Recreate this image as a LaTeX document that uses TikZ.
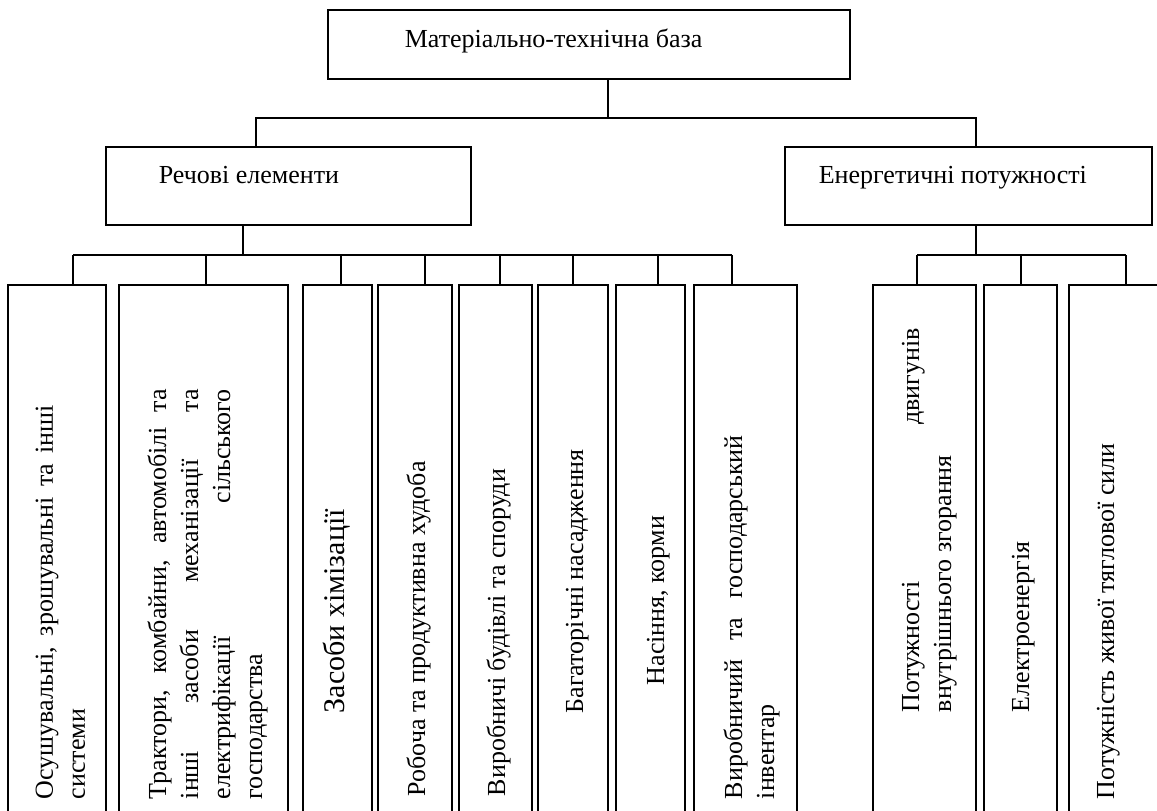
\documentclass[tikz,border=0pt]{standalone}
\usepackage{fontspec}
\setmainfont{Liberation Serif}
\usetikzlibrary{fit}
\hyphenpenalty=10000
\exhyphenpenalty=10000

\begin{document}
\begin{tikzpicture}[x=0.5pt,y=-0.5pt,
  box/.style={draw, line width=0.8pt, inner sep=0pt},
  lbl/.style={font=\fontsize{13}{16}\selectfont, inner sep=0pt},
  vlbl/.style={lbl, rotate=90, anchor=base west},
  vpar/.style={vlbl, text width=#1, align=justify}]
\useasboundingbox (0,0) rectangle (1157,810);
\clip (0,0) rectangle (1157,810);
\tikzstyle{every path}+=[line width=0.8pt]
\node[box, fit={(328,10) (850,79)}] (baza) {};
\node[lbl, anchor=base west] (baza-t) at (404,47) {Матеріально-технічна база};
\node[box, fit={(106,147) (471,225)}] (rech) {};
\node[lbl, anchor=base west] (rech-t) at (158,183) {Речові елементи};
\node[box, fit={(785,147) (1152,225)}] (energ) {};
\node[lbl, anchor=base west] (energ-t) at (818,183) {Енергетичні потужності};
\coordinate (top-bus) at (608,118);
\coordinate (rech-in) at (256,118);
\coordinate (energ-in) at (976,118);
\draw (baza.south -| top-bus) -- (top-bus);
\draw (rech.north -| rech-in) -- (rech-in) -- (energ-in) -- (energ.north -| energ-in);
\node[box, fit={(8,285) (106,840)}] (b1) {};
\node[box, fit={(119,285) (288,840)}] (b2) {};
\node[box, fit={(303,285) (372,840)}] (b3) {};
\node[box, fit={(378,285) (452,840)}] (b4) {};
\node[box, fit={(459,285) (532,840)}] (b5) {};
\node[box, fit={(538,285) (608,840)}] (b6) {};
\node[box, fit={(616,285) (685,840)}] (b7) {};
\node[box, fit={(694,285) (797,840)}] (b8) {};
\node[box, fit={(873,285) (976,840)}] (b9) {};
\node[box, fit={(984,285) (1057,840)}] (b10) {};
\node[box, fit={(1069,285) (1190,840)}] (b11) {};
\coordinate (rech-out) at (243,255);
\coordinate (energ-out) at (976,255);
\coordinate (c1) at (73,255);
\coordinate (c2) at (206,255);
\coordinate (c3) at (341,255);
\coordinate (c4) at (425,255);
\coordinate (c5) at (500,255);
\coordinate (c6) at (573,255);
\coordinate (c7) at (658,255);
\coordinate (c8) at (732,255);
\coordinate (c9) at (917,255);
\coordinate (c10) at (1021,255);
\coordinate (c11) at (1126,255);
\draw (rech.south -| rech-out) -- (rech-out);
\draw (energ.south -| energ-out) -- (energ-out);
\draw (c1) -- (c8);
\draw (c9) -- (c11);
\foreach \i in {1,...,11}
  \draw (c\i) -- (b\i.north -| c\i);
\node[vpar=197pt] (t1) at (53,800) {Осушувальні, зрошувальні та інші\linebreak системи};
\node[vpar=205pt] (t2) at (166,800) {Трактори, комбайни, автомобілі та\linebreak інші засоби механізації та\linebreak електрифікації сільського\linebreak господарства};
\node[vlbl, font=\fontsize{15}{18}\selectfont] (t3) at (344,714) {Засоби хімізації};
\node[vlbl] (t4) at (425,797) {Робоча та продуктивна худоба};
\node[vlbl] (t5) at (505,797) {Виробничі будівлі та споруди};
\node[vlbl] (t6) at (583,714) {Багаторічні насадження};
\node[vlbl] (t7) at (664,686) {Насіння, корми};
\node[vpar=182pt] (t8) at (742,800) {Виробничий та господарський\linebreak інвентар};
\node[vpar=192pt] (t9) at (919,713) {Потужності двигунів\linebreak внутрішнього згорання};
\node[vlbl] (t10) at (1029,713) {Електроенергія};
\node[vlbl] (t11) at (1114,800) {Потужність живої тяглової сили};
\end{tikzpicture}
\end{document}
